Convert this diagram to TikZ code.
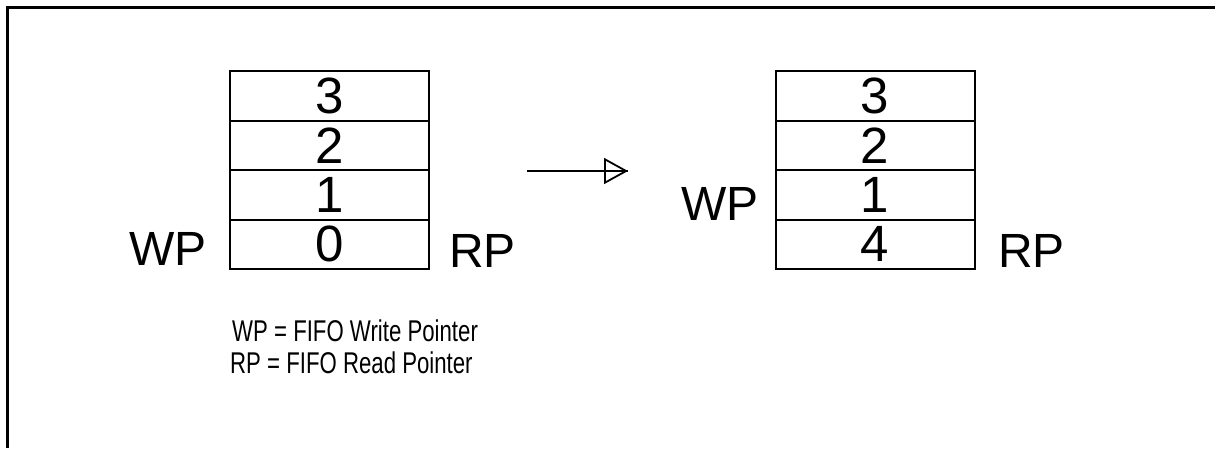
\documentclass[tikz,border=0pt]{standalone}
\usepackage{fontspec}
\usepackage{tikz}
\usetikzlibrary{arrows.meta}
\setmainfont{Liberation Sans}
\newfontfamily\legendfont[FakeStretch=0.74]{Liberation Sans}

\tikzset{
  cell/.style={draw=black, line width=2pt, minimum width=199pt, minimum height=49.5pt,
               inner sep=0pt, font=\fontsize{51}{54}\selectfont},
  ptr/.style={inner sep=0pt, anchor=base west, font=\fontsize{48}{50}\selectfont},
  legend/.style={inner sep=0pt, anchor=base west, font=\legendfont\fontsize{30}{32}\selectfont}
}

\begin{document}
\begin{tikzpicture}[x=1pt,y=-1pt]
        \useasboundingbox (0,0) rectangle (1215,448);
        \draw[line width=3pt] (7,448) -- (7,7) -- (1215,7);

        % fifo before
        \node[cell] (L3) at (329.5,95.75)  {3};
        \node[cell] (L2) at (329.5,145.25) {2};
        \node[cell] (L1) at (329.5,194.75) {1};
        \node[cell] (L0) at (329.5,244.25) {0};
        \node[ptr] (WPL) at (129,265) {WP};
        \node[ptr] (RPL) at (449,267) {RP};

        % fifo after
        \node[cell] (R3) at (875,95.75)  {3};
        \node[cell] (R2) at (875,145.25) {2};
        \node[cell] (R1) at (875,194.75) {1};
        \node[cell] (R0) at (875,244.25) {4};
        \node[ptr] (WPR) at (681,220) {WP};
        \node[ptr] (RPR) at (998,267) {RP};

        \coordinate (S) at (527,171);
        \coordinate (T) at (628,171);
        \draw[line width=1.8pt] (S) -- (T);
        \draw[line width=1.8pt, -{Triangle[open,length=24pt,width=26pt]}] (S) -- (T);

        \node[legend] (LWP) at (232,341) {WP = FIFO Write Pointer};
        \node[legend] (LRP) at (230,373) {RP = FIFO Read Pointer};
\end{tikzpicture}
\end{document}
